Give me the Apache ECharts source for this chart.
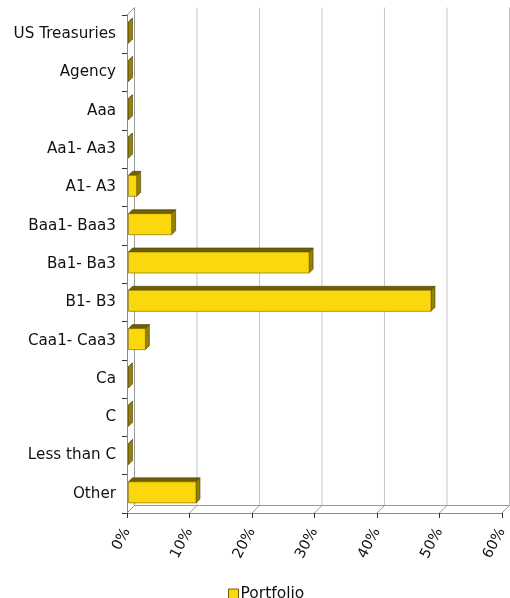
<!DOCTYPE html>
<html>
<head>
<meta charset="utf-8">
<script src="https://cdn.jsdelivr.net/npm/echarts@6/dist/echarts.min.js"></script>
<style>
  html, body { margin: 0; padding: 0; background: #fff; }
  #chart { width: 510px; height: 598px; }
</style>
</head>
<body>
<div id="chart"></div>
<script>
// Rating buckets, top to bottom
const categories = [
  'US Treasuries', 'Agency', 'Aaa', 'Aa1- Aa3', 'A1- A3', 'Baa1- Baa3',
  'Ba1- Ba3', 'B1- B3', 'Caa1- Caa3', 'Ca', 'C', 'Less than C', 'Other'
];
// Portfolio weight per bucket (%)
const portfolio = [0, 0, 0, 0, 1.3, 6.9, 28.9, 48.4, 2.7, 0, 0, 0, 10.8];
// Value axis ticks (%)
const xTicks = [0, 10, 20, 30, 40, 50, 60];

const FONT = 'DejaVu Sans';
const WALL_DX = 7.5, WALL_DY = -7.5;   // depth of the back wall
const BAR_OFF = 1.5, BAR_DEPTH = 4;    // bar placement inside the depth

// Back wall, floor and its gridlines, drawn in the grid's own coordinates
function renderWall(params, api) {
  const cs = params.coordSys;
  const left = cs.x, top = cs.y, bottom = cs.y + cs.height, right = cs.x + cs.width;
  const grid = '#c4c4c4', edge = '#9a9a9a';
  const children = [];
  xTicks.forEach(function (t) {
    const x = api.coord([t, 0])[0];
    children.push({ type: 'line', shape: { x1: x + WALL_DX, y1: top + WALL_DY, x2: x + WALL_DX, y2: bottom + WALL_DY },
      style: { stroke: t === 0 ? edge : grid, lineWidth: 1 } });
    children.push({ type: 'line', shape: { x1: x, y1: bottom, x2: x + WALL_DX, y2: bottom + WALL_DY },
      style: { stroke: edge, lineWidth: 1 } });
  });
  children.push({ type: 'line', shape: { x1: left + WALL_DX, y1: bottom + WALL_DY, x2: right + WALL_DX, y2: bottom + WALL_DY },
    style: { stroke: edge, lineWidth: 1 } });
  children.push({ type: 'line', shape: { x1: left, y1: top, x2: left + WALL_DX, y2: top + WALL_DY },
    style: { stroke: edge, lineWidth: 1 } });
  return { type: 'group', children: children };
}

// Extruded bar: front face, top face and right side face
function renderBar(params, api) {
  const v = api.value(0), c = api.value(1);
  const start = api.coord([0, c]);
  const end = api.coord([v, c]);
  const band = api.size([0, 1])[1];
  const h = band * 0.55;
  const d = BAR_DEPTH;
  const x0 = start[0] + BAR_OFF, x1 = end[0] + BAR_OFF;
  const yT = start[1] - h / 2 - BAR_OFF, yB = yT + h;
  const stroke = '#4a3f00';
  return {
    type: 'group',
    children: [
      { type: 'polygon', shape: { points: [[x0, yT], [x1, yT], [x1 + d, yT - d], [x0 + d, yT - d]] },
        style: { fill: '#6e5e04', stroke: stroke, lineWidth: 0.6 } },
      { type: 'polygon', shape: { points: [[x1, yT], [x1 + d, yT - d], [x1 + d, yB - d], [x1, yB]] },
        style: { fill: '#948208', stroke: stroke, lineWidth: 0.6 } },
      { type: 'rect', shape: { x: x0, y: yT, width: Math.max(x1 - x0, 0), height: h },
        style: { fill: '#fbd80c', stroke: '#6e5e00', lineWidth: 0.6 } }
    ]
  };
}

const chart = echarts.init(document.getElementById('chart'), null, { renderer: 'canvas' });
chart.setOption({
  animation: false,
  backgroundColor: '#ffffff',
  textStyle: { fontFamily: FONT },
  grid: { left: 127, right: 7, top: 15, bottom: 85, containLabel: false },
  xAxis: {
    type: 'value', min: 0, max: 60, interval: 10,
    axisLine: { show: true, lineStyle: { color: '#8a8a8a' } },
    axisTick: { show: true, length: 5, lineStyle: { color: '#333' } },
    splitLine: { show: false },
    axisLabel: { formatter: '{value}%', rotate: 62, margin: 16, fontSize: 14.5, color: '#111', fontFamily: FONT }
  },
  yAxis: {
    type: 'category', data: categories, inverse: true,
    axisLine: { show: true, lineStyle: { color: '#8a8a8a' } },
    axisTick: { show: true, length: 5, lineStyle: { color: '#333' } },
    axisLabel: { margin: 11, fontSize: 15.2, color: '#111', fontFamily: FONT }
  },
  legend: {
    left: 223, top: 581,
    itemWidth: 10, itemHeight: 10, itemGap: 10,
    textStyle: { fontSize: 15.5, color: '#111', fontFamily: FONT, padding: [0, 0, 0, -3] },
    data: [{ name: 'Portfolio', icon: 'rect',
      itemStyle: { color: '#fbd80c', borderColor: '#6e5e00', borderWidth: 1 } }]
  },
  series: [
    { type: 'custom', name: 'wall', silent: true, z: 1, renderItem: renderWall, data: [[0, 0]] },
    { type: 'custom', name: 'Portfolio', z: 3, renderItem: renderBar,
      itemStyle: { color: '#fbd80c' },
      encode: { x: 0, y: 1 },
      data: portfolio.map(function (v, i) { return [v, i]; }) }
  ]
});
</script>
</body>
</html>
